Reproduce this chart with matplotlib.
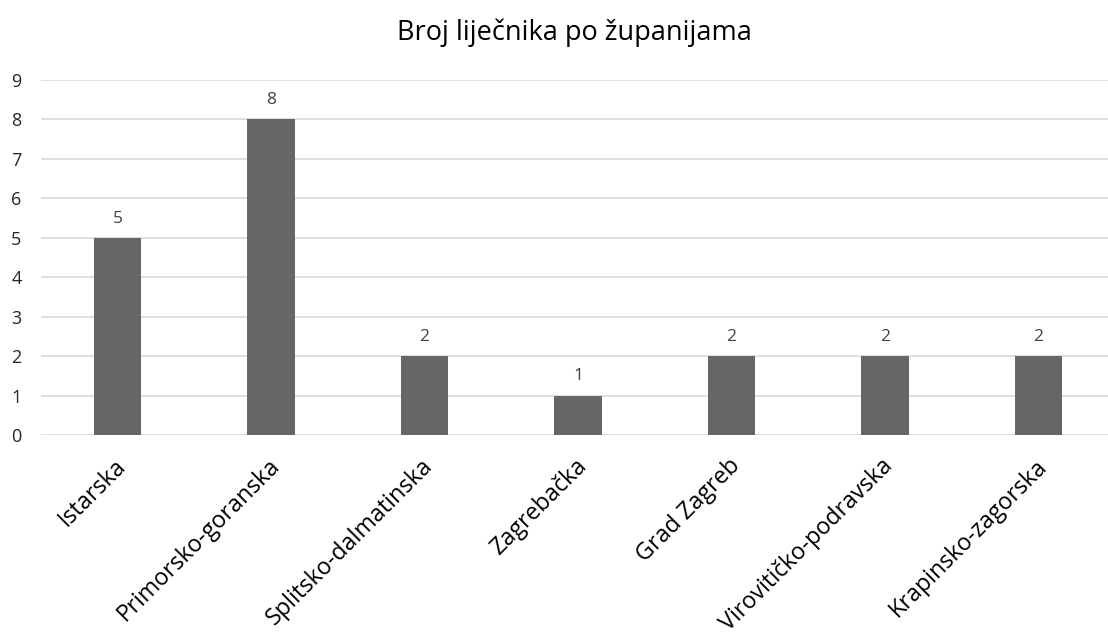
import matplotlib
matplotlib.use("Agg")
import matplotlib.pyplot as plt
import matplotlib.transforms as mtransforms
import numpy as np

plt.rcParams["font.family"] = ["Open Sans", "DejaVu Sans"]

title = "Broj liječnika po županijama"
counties = [
    "Istarska",
    "Primorsko-goranska",
    "Splitsko-dalmatinska",
    "Zagrebačka",
    "Grad Zagreb",
    "Virovitičko-podravska",
    "Krapinsko-zagorska",
]
doctors = [5, 8, 2, 1, 2, 2, 2]
y_ticks = list(range(0, 10))

fig = plt.figure(figsize=(11.08, 6.35), dpi=100)
ax = fig.add_axes([41 / 1108, 200 / 635, (1115 - 41) / 1108, 355 / 635])

x = np.arange(len(counties))
bars = ax.bar(x, doctors, width=0.31, color="#666666", zorder=3)
for rect, val in zip(bars, doctors):
    ax.annotate(str(val), (rect.get_x() + rect.get_width() / 2, val),
                xytext=(0, 8), textcoords="offset points",
                ha="center", va="bottom", fontsize=12.5, color="#404040")

ax.set_xlim(-0.5, len(counties) - 0.5)
ax.set_ylim(0, 9)
ax.set_yticks(y_ticks)
ax.yaxis.grid(True, color="#d9d9d9", linewidth=1.2, zorder=0)
ax.tick_params(axis="y", length=0, pad=14, labelsize=13, labelcolor="#262626")
ax.tick_params(axis="x", length=0, pad=20)
for s in ax.spines.values():
    s.set_visible(False)

ax.set_xticks(x)
ax.set_xticklabels(counties, rotation=45, ha="right", va="center",
                   rotation_mode="anchor", fontsize=16.8)
shift = mtransforms.ScaledTranslation(5 / 100, 0, fig.dpi_scale_trans)
for lbl in ax.get_xticklabels():
    lbl.set_transform(lbl.get_transform() + shift)

fig.text(574 / 1108, 1 - 33 / 635, title, ha="center", va="center", fontsize=19.5)

fig.savefig("out.png", dpi=100)
